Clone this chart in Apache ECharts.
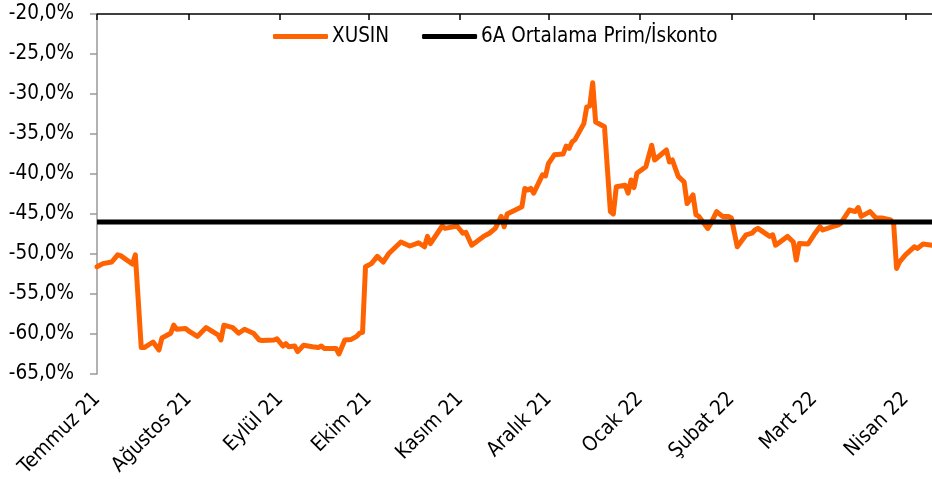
<!DOCTYPE html>
<html>
<head>
<meta charset="utf-8">
<script src="https://cdn.jsdelivr.net/npm/echarts@6/dist/echarts.min.js"></script>
<style>
html,body{margin:0;padding:0;background:#fff;}
#chart{width:932px;height:479px;}
</style>
</head>
<body>
<div id="chart"></div>
<script>
// ---- DATA ----
const startDate = '2021-07-01';
const endDate = '2022-04-10';
const monthLabels = ['Temmuz 21','Ağustos 21','Eylül 21','Ekim 21','Kasım 21','Aralık 21','Ocak 22','Şubat 22','Mart 22','Nisan 22'];
const seriesNames = ['XUSIN', '6A Ortalama Prim/İskonto'];
const xusinDates = [
 '2021-07-01','2021-07-03','2021-07-06','2021-07-08','2021-07-09','2021-07-13','2021-07-14','2021-07-16','2021-07-17','2021-07-20',
 '2021-07-22','2021-07-23','2021-07-26','2021-07-27','2021-07-28','2021-07-31','2021-08-01','2021-08-04','2021-08-07','2021-08-11',
 '2021-08-12','2021-08-13','2021-08-16','2021-08-18','2021-08-20','2021-08-23','2021-08-25','2021-08-26','2021-08-30','2021-08-31',
 '2021-09-02','2021-09-03','2021-09-04','2021-09-06','2021-09-07','2021-09-09','2021-09-12','2021-09-14','2021-09-15','2021-09-16',
 '2021-09-20','2021-09-21','2021-09-23','2021-09-25','2021-09-27','2021-09-28','2021-09-29','2021-09-30','2021-10-02','2021-10-04',
 '2021-10-06','2021-10-08','2021-10-12','2021-10-15','2021-10-18','2021-10-20','2021-10-21','2021-10-22','2021-10-26','2021-10-27',
 '2021-10-31','2021-11-02','2021-11-03','2021-11-05','2021-11-09','2021-11-11','2021-11-13','2021-11-15','2021-11-16','2021-11-17',
 '2021-11-22','2021-11-23','2021-11-24','2021-11-25','2021-11-26','2021-11-29','2021-11-30','2021-12-01','2021-12-03','2021-12-06',
 '2021-12-07','2021-12-08','2021-12-09','2021-12-10','2021-12-13','2021-12-14','2021-12-15','2021-12-16','2021-12-17','2021-12-20',
 '2021-12-22','2021-12-23','2021-12-24','2021-12-27','2021-12-28','2021-12-29','2021-12-30','2021-12-31','2022-01-03','2022-01-05',
 '2022-01-06','2022-01-10','2022-01-11','2022-01-12','2022-01-14','2022-01-16','2022-01-17','2022-01-19','2022-01-20','2022-01-21',
 '2022-01-24','2022-01-25','2022-01-27','2022-01-29','2022-01-31','2022-02-01','2022-02-03','2022-02-06','2022-02-08','2022-02-09',
 '2022-02-10','2022-02-14','2022-02-15','2022-02-16','2022-02-20','2022-02-22','2022-02-23','2022-02-24','2022-02-27','2022-03-01',
 '2022-03-03','2022-03-04','2022-03-07','2022-03-09','2022-03-10','2022-03-13','2022-03-15','2022-03-16','2022-03-17','2022-03-20',
 '2022-03-22','2022-03-24','2022-03-27','2022-03-28','2022-03-29','2022-03-30','2022-04-01','2022-04-04','2022-04-05','2022-04-07',
 '2022-04-10'
];
const xusinValues = [
 -51.6,-51.2,-51.0,-50.1,-50.2,-51.25,-50.1,-61.7,-61.7,-61.0,
 -62.0,-60.5,-59.9,-58.9,-59.4,-59.3,-59.6,-60.3,-59.2,-60.1,
 -60.75,-58.9,-59.2,-59.9,-59.4,-59.9,-60.75,-60.8,-60.75,-60.6,
 -61.5,-61.2,-61.6,-61.5,-62.2,-61.4,-61.6,-61.7,-61.5,-61.8,
 -61.8,-62.5,-60.75,-60.7,-60.3,-59.9,-59.8,-51.6,-51.2,-50.3,
 -51.0,-49.9,-48.5,-49.0,-48.6,-49.1,-47.8,-48.7,-46.5,-46.8,
 -46.5,-47.4,-47.3,-48.9,-47.8,-47.4,-46.8,-45.3,-46.6,-45.0,
 -44.1,-41.8,-42.0,-41.8,-42.4,-40.1,-40.25,-38.7,-37.6,-37.5,
 -36.5,-36.8,-36.0,-35.7,-33.7,-31.6,-31.5,-28.6,-33.5,-34.1,
 -44.7,-45.0,-41.6,-41.4,-42.4,-40.75,-41.7,-39.9,-39.1,-36.4,
 -38.25,-37.0,-38.5,-38.25,-40.3,-41.0,-43.7,-42.6,-45.1,-45.3,
 -46.8,-46.2,-44.7,-45.3,-45.3,-45.5,-49.1,-47.6,-47.4,-47.0,
 -46.8,-47.8,-47.6,-48.9,-47.8,-48.5,-50.75,-48.7,-48.75,-47.6,
 -46.6,-47.0,-46.6,-46.4,-46.2,-44.5,-44.7,-44.2,-45.3,-44.7,
 -45.5,-45.5,-45.75,-46.2,-51.8,-51.0,-50.1,-49.1,-49.3,-48.75,
 -48.9
];
const avgDates = ['2021-07-01','2022-04-10'];
const avgValues = [-46.0,-46.0];
const yTicks = {min:-65, max:-20, step:5};

// ---- BUILD ----
function buildDays(s, e){
  const out=[]; let d=new Date(s+'T00:00:00Z'); const end=new Date(e+'T00:00:00Z');
  while(d<=end){ out.push(d.toISOString().slice(0,10)); d=new Date(d.getTime()+86400000); }
  return out;
}
const days = buildDays(startDate, endDate);
const monthStarts = days.filter(d=>d.endsWith('-01'));
const labelMap = {}; monthStarts.forEach((d,i)=>{ labelMap[d]=monthLabels[i]; });
const isMonthStart = (idx, val) => val.endsWith('-01');
const FONT = "'DejaVu Sans Condensed', 'DejaVu Sans', sans-serif";
const FS = 20.5;

const chart = echarts.init(document.getElementById('chart'), null, {renderer:'canvas'});
chart.setOption({
  animation:false,
  backgroundColor:'#ffffff',
  grid:{left:97, right:0, top:14, bottom:105, containLabel:false, outerBoundsMode:'none'},
  legend:{
    left:273, top:26, padding:0, itemWidth:55, itemHeight:5, itemGap:33,
    icon:'roundRect',
    textStyle:{fontFamily:FONT, fontSize:FS, color:'#000', padding:[0,0,0,-1]},
    data:[{name:seriesNames[0]},{name:seriesNames[1]}]
  },
  xAxis:[
    {type:'category', data:days, boundaryGap:false, position:'bottom',
     axisLine:{show:false}, axisTick:{show:false}, splitLine:{show:false},
     axisLabel:{interval:isMonthStart, rotate:45, margin:22, fontFamily:FONT, fontSize:FS, color:'#000',
       formatter:(v)=>labelMap[v]||''}},
    {type:'category', data:days, boundaryGap:false, position:'top',
     axisLine:{show:true, lineStyle:{color:'#000', width:1.5}},
     axisTick:{show:true, inside:true, length:6, interval:isMonthStart, lineStyle:{color:'#000', width:1.5}},
     axisLabel:{show:false}, splitLine:{show:false}}
  ],
  yAxis:{type:'value', min:yTicks.min, max:yTicks.max, interval:yTicks.step,
    axisLine:{show:true, lineStyle:{color:'#999', width:1.5}},
    axisTick:{show:true, inside:false, length:7, lineStyle:{color:'#999', width:1.5}},
    splitLine:{show:false},
    axisLabel:{margin:23, fontFamily:FONT, fontSize:FS, color:'#000',
      formatter:(v)=>v.toFixed(1).replace('.',',')+'%'}},
  series:[
    {name:seriesNames[0], type:'line', xAxisIndex:0, showSymbol:false, symbol:'none', z:2,
     lineStyle:{color:'#ff6200', width:5, join:'round', cap:'round'}, itemStyle:{color:'#ff6200'},
     data:xusinDates.map((d,i)=>[d, xusinValues[i]])},
    {name:seriesNames[1], type:'line', xAxisIndex:0, showSymbol:false, symbol:'none', z:3,
     lineStyle:{color:'#000', width:5}, itemStyle:{color:'#000'},
     data:avgDates.map((d,i)=>[d, avgValues[i]])}
  ]
});
</script>
</body>
</html>
